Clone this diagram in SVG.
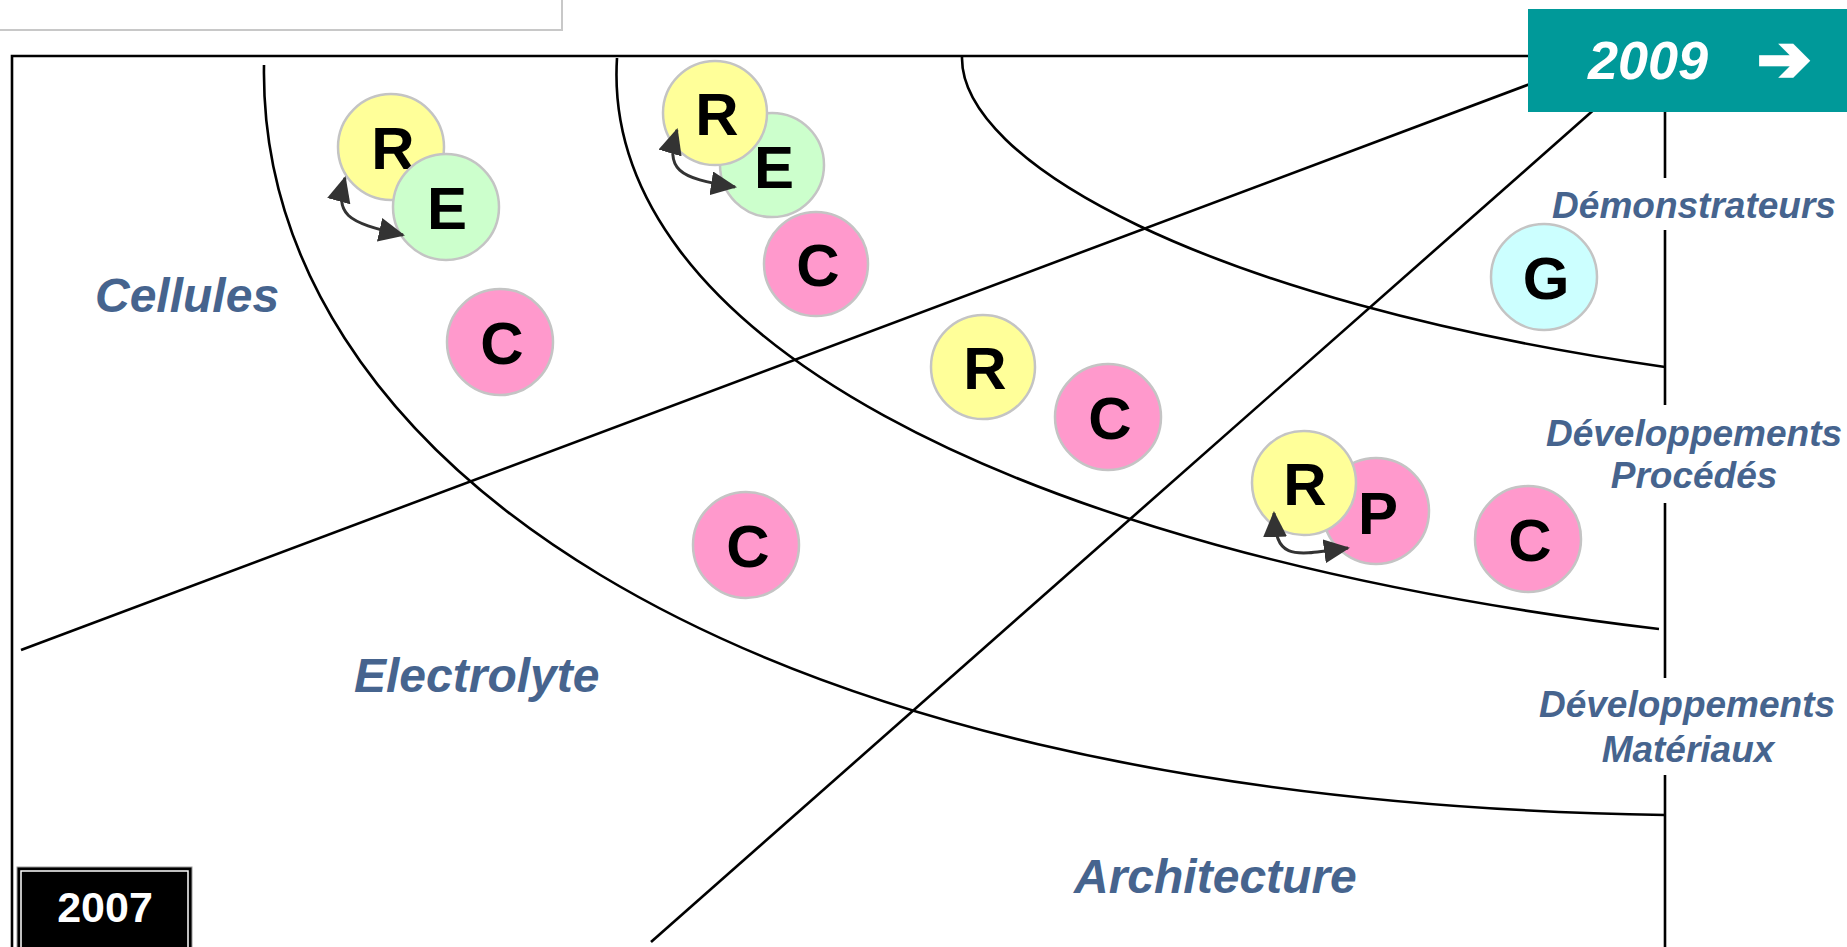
<svg xmlns="http://www.w3.org/2000/svg" width="1847" height="947" viewBox="0 0 1847 947">
  <defs>
    <style>
      .rule { fill: none; stroke: #000; stroke-width: 2.6; }
      .region { font-family: "Liberation Sans", Arial, sans-serif; font-weight: bold; font-style: italic; font-size: 48px; fill: #46648e; }
      .phase { font-family: "Liberation Sans", Arial, sans-serif; font-weight: bold; font-style: italic; font-size: 37px; fill: #46648e; text-anchor: middle; }
      .node circle { stroke: #c4c4c4; stroke-width: 2.5; }
      .node text { font-family: "Liberation Sans", Arial, sans-serif; font-weight: bold; font-size: 60px; fill: #000; text-anchor: middle; }
      .r { fill: #ffff99; }
      .e { fill: #ccffcc; }
      .c { fill: #ff99cc; }
      .g { fill: #ccffff; }
      .link { fill: none; stroke: #333; stroke-width: 3; marker-start: url(#head); marker-end: url(#head); }
    </style>
    <marker id="head" viewBox="0 0 26 24" refX="24" refY="12" markerWidth="26" markerHeight="24" markerUnits="userSpaceOnUse" orient="auto-start-reverse">
      <path d="M0,0 L26,12 L0,24 z" fill="#333"/>
    </marker>
  </defs>

  <rect width="1847" height="947" fill="#fff"/>

  <!-- title strip at top left -->
  <rect x="-4" y="-4" width="566" height="34" fill="#fff" stroke="#c8c8c8" stroke-width="2"/>

  <!-- frame, dividing arcs and axes -->
  <g id="grid">
    <path class="rule" d="M12,947 V56 H1530"/>
    <path class="rule" d="M264,65 C258,440 700,800 1665,815"/>
    <path class="rule" d="M617,58 C600,330 1000,550 1659,629"/>
    <path class="rule" d="M962,57 C960,160 1200,300 1665,367"/>
    <path class="rule" d="M21,650 L1530,84"/>
    <path class="rule" d="M651,942 L1597,107"/>
    <path class="rule" d="M1665,112 V178 M1665,230 V405 M1665,503 V678 M1665,775 V947"/>
  </g>

  <!-- time markers -->
  <g id="year-2009">
    <rect x="1528" y="9" width="319" height="103" fill="#009999"/>
    <text x="1648" y="79" font-family="Liberation Sans, Arial, sans-serif" font-weight="bold" font-style="italic" font-size="54" fill="#fff" text-anchor="middle">2009</text>
    <text x="1784" y="81" font-family="DejaVu Sans, sans-serif" font-weight="bold" font-size="64" fill="#fff" stroke="#fff" stroke-width="3.5" stroke-linejoin="miter" text-anchor="middle">➔</text>
  </g>
  <g id="year-2007">
    <rect x="17" y="867" width="175" height="82" fill="#000" stroke="#999" stroke-width="1"/>
    <rect x="21" y="871" width="167" height="80" fill="none" stroke="#fff" stroke-width="1.5"/>
    <text x="105" y="922" font-family="Liberation Sans, Arial, sans-serif" font-weight="bold" font-size="43" fill="#fff" text-anchor="middle">2007</text>
  </g>

  <!-- region labels -->
  <g id="labels">
    <text class="region" x="95" y="312">Cellules</text>
    <text class="region" x="354" y="692">Electrolyte</text>
    <text class="region" x="1074" y="893">Architecture</text>
    <text class="phase" x="1694" y="218">Démonstrateurs</text>
    <text class="phase" x="1694" y="446">Développements</text>
    <text class="phase" x="1694" y="488">Procédés</text>
    <text class="phase" x="1687" y="717">Développements</text>
    <text class="phase" x="1688" y="762">Matériaux</text>
  </g>

  <!-- nodes -->
  <g id="n-r1" class="node"><circle class="r" cx="391" cy="147" r="53"/><text x="393" y="169">R</text></g>
  <g id="n-e1" class="node"><circle class="e" cx="446" cy="207" r="53"/><text x="447" y="229">E</text></g>
  <g id="n-c1" class="node"><circle class="c" cx="500" cy="342" r="53"/><text x="502" y="364">C</text></g>
  <g id="n-e2" class="node"><circle class="e" cx="772" cy="165" r="52"/><text x="774" y="188">E</text></g>
  <g id="n-r2" class="node"><circle class="r" cx="715" cy="113" r="52"/><text x="717" y="135">R</text></g>
  <g id="n-c2" class="node"><circle class="c" cx="816" cy="264" r="52"/><text x="818" y="286">C</text></g>
  <g id="n-r3" class="node"><circle class="r" cx="983" cy="367" r="52"/><text x="985" y="389">R</text></g>
  <g id="n-c3" class="node"><circle class="c" cx="1108" cy="417" r="53"/><text x="1110" y="439">C</text></g>
  <g id="n-c4" class="node"><circle class="c" cx="746" cy="545" r="53"/><text x="748" y="567">C</text></g>
  <g id="n-g" class="node"><circle class="g" cx="1544" cy="277" r="53"/><text x="1546" y="299">G</text></g>
  <g id="n-p" class="node"><circle class="c" cx="1376" cy="511" r="53"/><text x="1378" y="534">P</text></g>
  <g id="n-r4" class="node"><circle class="r" cx="1304" cy="483" r="52"/><text x="1305" y="505">R</text></g>
  <g id="n-c5" class="node"><circle class="c" cx="1528" cy="539" r="53"/><text x="1530" y="561">C</text></g>

  <!-- two-way links -->
  <g id="connectors">
    <path class="link" d="M345,178 C335,215 345,222 403,235"/>
    <path class="link" d="M677,130 C665,170 677,178 735,187"/>
    <path class="link" d="M1274,513 C1276,560 1290,556 1348,548"/>
  </g>
</svg>
